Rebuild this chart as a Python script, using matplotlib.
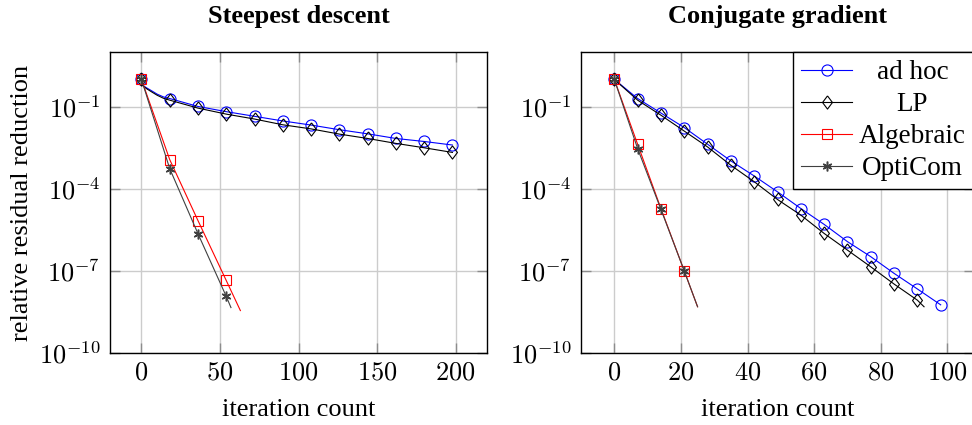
import numpy as np
import matplotlib
matplotlib.use('Agg')
import matplotlib.pyplot as plt
from matplotlib.ticker import FixedLocator, FuncFormatter, NullLocator

plt.rcParams['font.family'] = ['Liberation Serif', 'DejaVu Serif']
plt.rcParams['mathtext.fontset'] = 'cm'

# Werte als Zehnerexponenten (log10 der relativen Residuenreduktion)
# Steepest descent
sd_adhoc_it = [0, 1, 3, 6, 10, 14, 18, 36, 54, 72, 90, 108, 126, 144, 162, 180, 198]
sd_adhoc_exp = [0, -0.22, -0.30, -0.40, -0.54, -0.64, -0.70, -0.99, -1.18, -1.35,
                -1.52, -1.67, -1.84, -1.99, -2.16, -2.27, -2.40]
sd_lp_it = [0, 1, 3, 6, 10, 14, 18, 36, 54, 72, 90, 108, 126, 144, 162, 180, 198]
sd_lp_exp = [0, -0.24, -0.33, -0.44, -0.58, -0.69, -0.76, -1.05, -1.27, -1.45,
             -1.66, -1.81, -2.00, -2.16, -2.34, -2.50, -2.67]
sd_alg_it = [0, 18, 36, 54, 63]
sd_alg_exp = [0, -2.93, -5.16, -7.35, -8.45]
sd_opti_it = [0, 18, 36, 54, 57]
sd_opti_exp = [0, -3.26, -5.64, -7.93, -8.34]

# Conjugate gradient
cg_adhoc_it = [0, 7, 14, 21, 28, 35, 42, 49, 56, 63, 70, 77, 84, 91, 98]
cg_adhoc_exp = [0, -0.70, -1.23, -1.76, -2.37, -2.98, -3.53, -4.11, -4.72, -5.30,
                -5.93, -6.48, -7.09, -7.66, -8.24]
cg_lp_it = [0, 7, 14, 21, 28, 35, 42, 49, 56, 63, 70, 77, 84, 91, 93]
cg_lp_exp = [0, -0.76, -1.31, -1.89, -2.47, -3.14, -3.74, -4.39, -4.96, -5.63,
             -6.24, -6.85, -7.48, -8.07, -8.31]
cg_alg_it = [0, 7, 14, 21, 25]
cg_alg_exp = [0, -2.37, -4.72, -7.00, -8.31]
cg_opti_it = [0, 7, 14, 21, 25]
cg_opti_exp = [0, -2.53, -4.75, -7.00, -8.31]

labels = ['ad hoc', 'LP', 'Algebraic', 'OptiCom']
colors = ['#0000ff', 'black', '#ff0000', '0.25']
diamond = [(0, 1), (0.75, 0), (0, -1), (-0.75, 0), (0, 1)]
markers = ['o', diamond, 's', (6, 2, 0)]
msizes = [8, 9.5, 7, 7]

fig = plt.figure(figsize=(9.72, 4.25), dpi=100)
ax1 = fig.add_axes([110 / 972, 72 / 425, 377 / 972, 301 / 425])
ax2 = fig.add_axes([581 / 972, 72 / 425, 393 / 972, 301 / 425])


def draw(ax, series, step):
    for k_s, ((it, ex), lab, c, m, ms) in enumerate(zip(series, labels, colors, markers, msizes)):
        marks = [i for i, k in enumerate(it) if k % step == 0]
        star = k_s == 3
        ax.plot(it, 10.0 ** np.array(ex), color=c, lw=0.8, marker=m, ms=ms,
                mfc=c if star else 'none', mec=c, mew=1.1 if star else 0.8,
                markevery=marks, label=lab)


draw(ax1, [(sd_adhoc_it, sd_adhoc_exp), (sd_lp_it, sd_lp_exp),
           (sd_alg_it, sd_alg_exp), (sd_opti_it, sd_opti_exp)], 18)
draw(ax2, [(cg_adhoc_it, cg_adhoc_exp), (cg_lp_it, cg_lp_exp),
           (cg_alg_it, cg_alg_exp), (cg_opti_it, cg_opti_exp)], 7)

exp_fmt = FuncFormatter(lambda v, p: r'$10^{%d}$' % int(round(np.log10(v))))
num_fmt = FuncFormatter(lambda v, p: r'$%g$' % v)

for ax, xl, xt, title in [(ax1, (-20, 220), [0, 50, 100, 150, 200], 'Steepest descent'),
                          (ax2, (-10, 108), [0, 20, 40, 60, 80, 100], 'Conjugate gradient')]:
    ax.set_yscale('log')
    ax.set_xlim(*xl)
    ax.set_ylim(1e-10, 10)
    ax.xaxis.set_major_locator(FixedLocator(xt))
    ax.xaxis.set_major_formatter(num_fmt)
    ax.yaxis.set_major_locator(FixedLocator([1e-1, 1e-4, 1e-7, 1e-10]))
    ax.yaxis.set_major_formatter(exp_fmt)
    ax.yaxis.set_minor_locator(NullLocator())
    ax.grid(True, color='0.8', lw=1.0)
    ax.set_axisbelow(True)
    ax.tick_params(direction='in', length=7, width=1.0, color='0.55',
                   top=True, right=True, labelsize=19, pad=7)
    for s in ax.spines.values():
        s.set_linewidth(1.0)
    ax.set_xlabel('iteration count', fontsize=19, labelpad=10)
    ax.set_title(title, fontsize=19, fontweight='bold', pad=21)

ax1.set_ylabel('relative residual reduction', fontsize=19, labelpad=4)

leg = ax2.legend(loc='upper right', borderaxespad=0, fontsize=19.5, fancybox=False,
                 framealpha=1, edgecolor='black', handlelength=1.9,
                 handletextpad=0.25, borderpad=0.3, labelspacing=0.26, numpoints=1)
leg.get_frame().set_linewidth(1.0)

# Legendentexte zentrieren wie bei pgfplots
fig.canvas.draw()
texts = leg.get_texts()
widths = [t.get_window_extent().width for t in texts]
wmax = max(widths)
for t, w in zip(texts, widths):
    t.set_x((wmax - w) / 2)

fig.savefig('out.png', dpi=100)
